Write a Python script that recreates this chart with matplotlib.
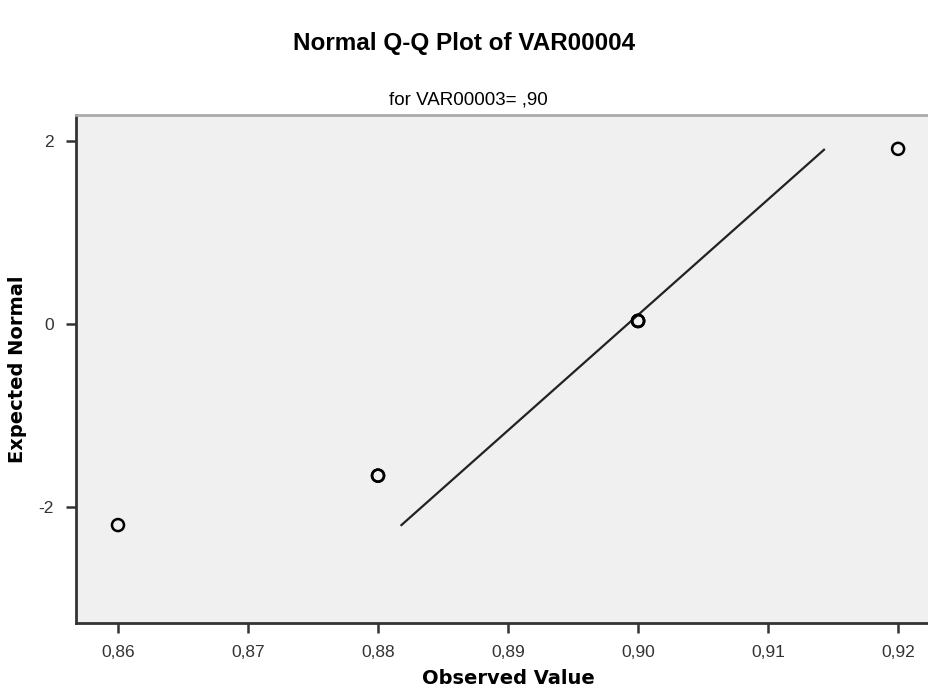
import matplotlib.pyplot as plt

plt.rcParams['font.family'] = ['Liberation Sans', 'DejaVu Sans']
plt.rcParams['axes.unicode_minus'] = False

# observed values and expected normal quantiles
observed = [0.86, 0.88, 0.88, 0.90, 0.90, 0.90, 0.92]
expected = [-2.20, -1.66, -1.66, 0.03, 0.03, 0.03, 1.91]

# reference line
line_x = [0.8818, 0.9143]
line_y = [-2.20, 1.90]

xticks = [0.86, 0.87, 0.88, 0.89, 0.90, 0.91, 0.92]
xlabels = ["0,86", "0,87", "0,88", "0,89", "0,90", "0,91", "0,92"]
yticks = [-2, 0, 2]

fig = plt.figure(figsize=(9.29, 6.99), dpi=100)
ax = fig.add_axes([0.0818, 0.1087, 0.93, 0.7268])
ax.set_facecolor('#f0f0f0')

ax.plot(line_x, line_y, color='#222222', lw=1.6)
ax.scatter(observed, expected, s=75, facecolors='none', edgecolors='black', linewidths=1.8, zorder=3)

ax.set_xlim(0.85677, 0.92322)
ax.set_ylim(-3.27, 2.28)
ax.set_xticks(xticks)
ax.set_xticklabels(xlabels)
ax.set_yticks(yticks)

for s in ['left', 'bottom']:
    ax.spines[s].set_color('#333333')
    ax.spines[s].set_linewidth(2)
ax.spines['top'].set_color('#aaaaaa')
ax.spines['top'].set_linewidth(2)
ax.spines['right'].set_visible(False)
ax.tick_params(direction='out', length=7, width=1.8, color='#333333',
               labelsize=12.5, labelcolor='#333333', pad=9)

ax.set_xlabel("Observed Value", fontsize=14, fontweight='bold', family='DejaVu Sans', labelpad=6)
ax.set_ylabel("Expected Normal", fontsize=14, fontweight='bold', family='DejaVu Sans', labelpad=8)

fig.text(0.5, 0.938, "Normal Q-Q Plot of VAR00004", ha='center', va='center', fontsize=17.5, fontweight='bold')
fig.text(0.504, 0.857, "for VAR00003= ,90", ha='center', va='center', fontsize=13.5)

fig.savefig("out.png", dpi=100)
